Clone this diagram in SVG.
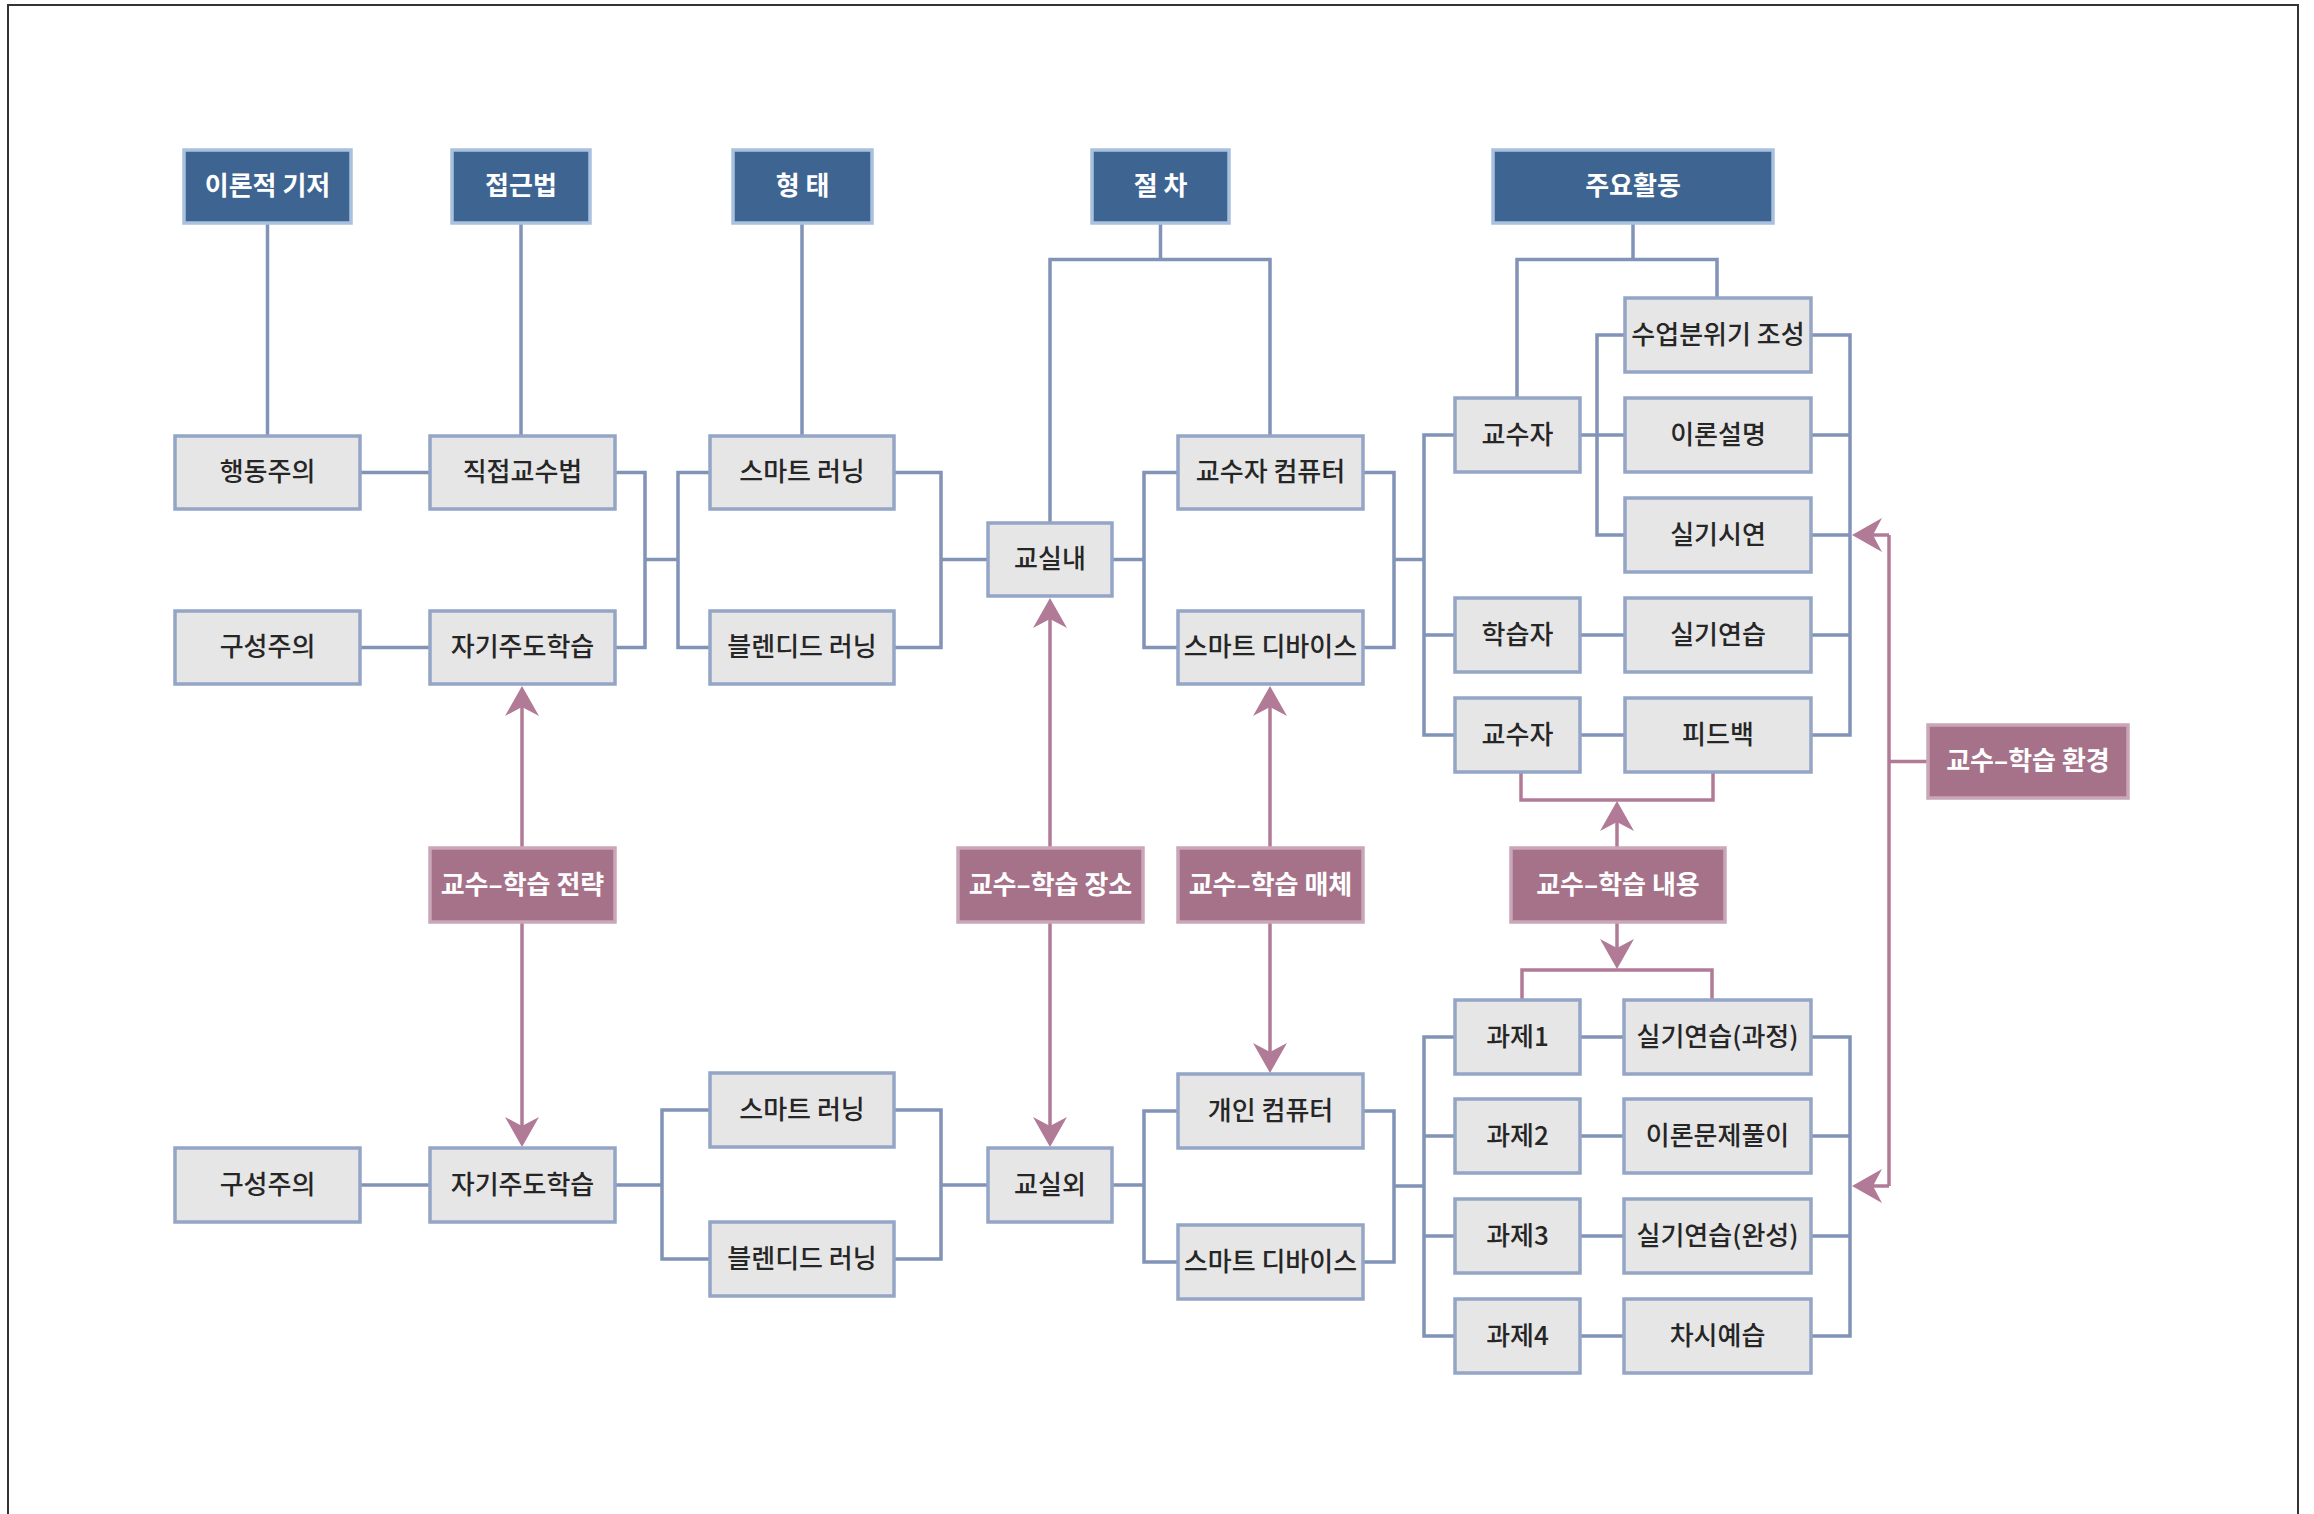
<svg xmlns="http://www.w3.org/2000/svg" width="2314" height="1514" viewBox="0 0 2314 1514">
<defs>
<style>
.box{fill:#e6e6e6;stroke:#94a5c6;stroke-width:3.5}
.hdr{fill:#3e6591;stroke:#a9c1de;stroke-width:3.5}
.pk{fill:#a5728a;stroke:#c9a6b8;stroke-width:3.5}
.t{font-family:"Noto Sans CJK KR","Noto Sans",sans-serif;font-size:26px;fill:#262626;text-anchor:middle;dominant-baseline:central;font-weight:500;transform:translate(0px,-3px)}
.tw{font-family:"Noto Sans CJK KR","Noto Sans",sans-serif;font-size:26px;fill:#ffffff;text-anchor:middle;dominant-baseline:central;font-weight:700;transform:translate(0px,-3px)}
.ln{fill:none;stroke:#8193b6;stroke-width:3.5}
.pl{fill:none;stroke:#b17b97;stroke-width:3.5}
.frame{fill:none;stroke:#333333;stroke-width:2}
</style>
<marker id="ah" viewBox="0 0 30 34" markerWidth="30" markerHeight="34" refX="24" refY="17" orient="auto" markerUnits="userSpaceOnUse">
<path d="M30,17 L0,0 L9,17 L0,34 Z" fill="#b17b97"/>
</marker>
</defs>
<rect width="2314" height="1514" fill="#ffffff"/>
<path class="frame" d="M8,1514 V5 H2298 V1514"/>

<g id="connectors">
<path class="ln" d="M267.5,223 V436 M521,223 V436 M802,223 V436"/>
<path class="ln" d="M1160.5,223 V259.5 M1050,523 V259.5 H1270 V436"/>
<path class="ln" d="M1633,223 V259.5 M1517,398 V259.5 H1717 V298"/>
<path class="ln" d="M360,472.5 H430 M360,647.5 H430"/>
<path class="ln" d="M615,472.5 H645 V647.5 H615 M645,559.5 H678 M710,472.5 H678 V647.5 H710"/>
<path class="ln" d="M894,472.5 H941 V647.5 H894 M941,559.5 H988"/>
<path class="ln" d="M1112,559.5 H1144 M1178,472.5 H1144 V647.5 H1178"/>
<path class="ln" d="M1363,472.5 H1394 V647.5 H1363 M1394,559.5 H1424 M1455,435 H1424 V735 H1455 M1424,635 H1455"/>
<path class="ln" d="M1580,435 H1625 M1625,335 H1597 V535 H1625 M1580,635 H1625 M1580,735 H1625"/>
<path class="ln" d="M1811,335 H1850 V735 H1811 M1811,435 H1850 M1811,535 H1850 M1811,635 H1850"/>
<path class="ln" d="M360,1185 H430"/>
<path class="ln" d="M615,1185 H662 M710,1110 H662 V1259 H710"/>
<path class="ln" d="M894,1110 H941 V1259 H894 M941,1185 H988"/>
<path class="ln" d="M1112,1185 H1144 M1178,1111 H1144 V1262 H1178"/>
<path class="ln" d="M1363,1111 H1394 V1262 H1363 M1394,1186 H1424 M1455,1037 H1424 V1336 H1455 M1424,1136 H1455 M1424,1236 H1455"/>
<path class="ln" d="M1580,1037 H1624 M1580,1136 H1624 M1580,1236 H1624 M1580,1336 H1624"/>
<path class="ln" d="M1811,1037 H1850 V1336 H1811 M1811,1136 H1850 M1811,1236 H1850"/>

<path class="pl" d="M522,848 V692" marker-end="url(#ah)"/>
<path class="pl" d="M522,922 V1141" marker-end="url(#ah)"/>
<path class="pl" d="M1050,848 V604" marker-end="url(#ah)"/>
<path class="pl" d="M1050,922 V1141" marker-end="url(#ah)"/>
<path class="pl" d="M1270,848 V692" marker-end="url(#ah)"/>
<path class="pl" d="M1270,922 V1067" marker-end="url(#ah)"/>
<path class="pl" d="M1617,848 V807" marker-end="url(#ah)"/>
<path class="pl" d="M1617,922 V963" marker-end="url(#ah)"/>
<path class="pl" d="M1521,773 V800 H1713 V773"/>
<path class="pl" d="M1522,1000 V970 H1712 V1000"/>
<path class="pl" d="M1928,761.5 H1889 M1889,535 V1186"/>
<path class="pl" d="M1889,535 H1858" marker-end="url(#ah)"/>
<path class="pl" d="M1889,1186 H1858" marker-end="url(#ah)"/>
</g>

<g id="h-theory"><rect class="hdr" x="184" y="150" width="167" height="73"/><text class="tw" x="267.5" y="186.5">이론적 기저</text></g>
<g id="h-approach"><rect class="hdr" x="452" y="150" width="138" height="73"/><text class="tw" x="521" y="186.5">접근법</text></g>
<g id="h-form"><rect class="hdr" x="733" y="150" width="139" height="73"/><text class="tw" x="802.5" y="186.5">형 태</text></g>
<g id="h-procedure"><rect class="hdr" x="1092" y="150" width="137" height="73"/><text class="tw" x="1160.5" y="186.5">절 차</text></g>
<g id="h-activity"><rect class="hdr" x="1493" y="150" width="280" height="73"/><text class="tw" x="1633" y="186.5">주요활동</text></g>

<g id="n-behaviorism"><rect class="box" x="175" y="436" width="185" height="73"/><text class="t" x="267.5" y="472.5">행동주의</text></g>
<g id="n-direct"><rect class="box" x="430" y="436" width="185" height="73"/><text class="t" x="522.5" y="472.5">직접교수법</text></g>
<g id="n-smart1"><rect class="box" x="710" y="436" width="184" height="73"/><text class="t" x="802" y="472.5">스마트 러닝</text></g>
<g id="n-tcomputer"><rect class="box" x="1178" y="436" width="185" height="73"/><text class="t" x="1270.5" y="472.5">교수자 컴퓨터</text></g>
<g id="n-construct1"><rect class="box" x="175" y="611" width="185" height="73"/><text class="t" x="267.5" y="647.5">구성주의</text></g>
<g id="n-self1"><rect class="box" x="430" y="611" width="185" height="73"/><text class="t" x="522.5" y="647.5">자기주도학습</text></g>
<g id="n-blended1"><rect class="box" x="710" y="611" width="184" height="73"/><text class="t" x="802" y="647.5">블렌디드 러닝</text></g>
<g id="n-device1"><rect class="box" x="1178" y="611" width="185" height="73"/><text class="t" x="1270.5" y="647.5">스마트 디바이스</text></g>
<g id="n-inclass"><rect class="box" x="988" y="523" width="124" height="73"/><text class="t" x="1050" y="559.5">교실내</text></g>

<g id="n-atmos"><rect class="box" x="1625" y="298" width="186" height="74"/><text class="t" x="1718" y="335">수업분위기 조성</text></g>
<g id="n-teacher1"><rect class="box" x="1455" y="398" width="125" height="74"/><text class="t" x="1517.5" y="435">교수자</text></g>
<g id="n-theory"><rect class="box" x="1625" y="398" width="186" height="74"/><text class="t" x="1718" y="435">이론설명</text></g>
<g id="n-demo"><rect class="box" x="1625" y="498" width="186" height="74"/><text class="t" x="1718" y="535">실기시연</text></g>
<g id="n-learner"><rect class="box" x="1455" y="598" width="125" height="74"/><text class="t" x="1517.5" y="635">학습자</text></g>
<g id="n-practice"><rect class="box" x="1625" y="598" width="186" height="74"/><text class="t" x="1718" y="635">실기연습</text></g>
<g id="n-teacher2"><rect class="box" x="1455" y="698" width="125" height="74"/><text class="t" x="1517.5" y="735">교수자</text></g>
<g id="n-feedback"><rect class="box" x="1625" y="698" width="186" height="74"/><text class="t" x="1718" y="735">피드백</text></g>

<g id="p-strategy"><rect class="pk" x="430" y="848" width="185" height="74"/><text class="tw" x="522.5" y="885">교수–학습 전략</text></g>
<g id="p-place"><rect class="pk" x="958" y="848" width="185" height="74"/><text class="tw" x="1050.5" y="885">교수–학습 장소</text></g>
<g id="p-media"><rect class="pk" x="1178" y="848" width="185" height="74"/><text class="tw" x="1270.5" y="885">교수–학습 매체</text></g>
<g id="p-content"><rect class="pk" x="1511" y="848" width="214" height="74"/><text class="tw" x="1618" y="885">교수–학습 내용</text></g>
<g id="p-env"><rect class="pk" x="1928" y="725" width="200" height="73"/><text class="tw" x="2028" y="761.5">교수–학습 환경</text></g>

<g id="n-construct2"><rect class="box" x="175" y="1148" width="185" height="74"/><text class="t" x="267.5" y="1185">구성주의</text></g>
<g id="n-self2"><rect class="box" x="430" y="1148" width="185" height="74"/><text class="t" x="522.5" y="1185">자기주도학습</text></g>
<g id="n-smart2"><rect class="box" x="710" y="1073" width="184" height="74"/><text class="t" x="802" y="1110">스마트 러닝</text></g>
<g id="n-blended2"><rect class="box" x="710" y="1222" width="184" height="74"/><text class="t" x="802" y="1259">블렌디드 러닝</text></g>
<g id="n-outclass"><rect class="box" x="988" y="1148" width="124" height="74"/><text class="t" x="1050" y="1185">교실외</text></g>
<g id="n-pcomputer"><rect class="box" x="1178" y="1074" width="185" height="74"/><text class="t" x="1270.5" y="1111">개인 컴퓨터</text></g>
<g id="n-device2"><rect class="box" x="1178" y="1225" width="185" height="74"/><text class="t" x="1270.5" y="1262">스마트 디바이스</text></g>
<g id="n-task1"><rect class="box" x="1455" y="1000" width="125" height="74"/><text class="t" x="1517.5" y="1037">과제1</text></g>
<g id="n-task2"><rect class="box" x="1455" y="1099" width="125" height="74"/><text class="t" x="1517.5" y="1136">과제2</text></g>
<g id="n-task3"><rect class="box" x="1455" y="1199" width="125" height="74"/><text class="t" x="1517.5" y="1236">과제3</text></g>
<g id="n-task4"><rect class="box" x="1455" y="1299" width="125" height="74"/><text class="t" x="1517.5" y="1336">과제4</text></g>
<g id="n-pprocess"><rect class="box" x="1624" y="1000" width="187" height="74"/><text class="t" x="1717.5" y="1037">실기연습(과정)</text></g>
<g id="n-problems"><rect class="box" x="1624" y="1099" width="187" height="74"/><text class="t" x="1717.5" y="1136">이론문제풀이</text></g>
<g id="n-pcomplete"><rect class="box" x="1624" y="1199" width="187" height="74"/><text class="t" x="1717.5" y="1236">실기연습(완성)</text></g>
<g id="n-preview"><rect class="box" x="1624" y="1299" width="187" height="74"/><text class="t" x="1717.5" y="1336">차시예습</text></g>
</svg>
